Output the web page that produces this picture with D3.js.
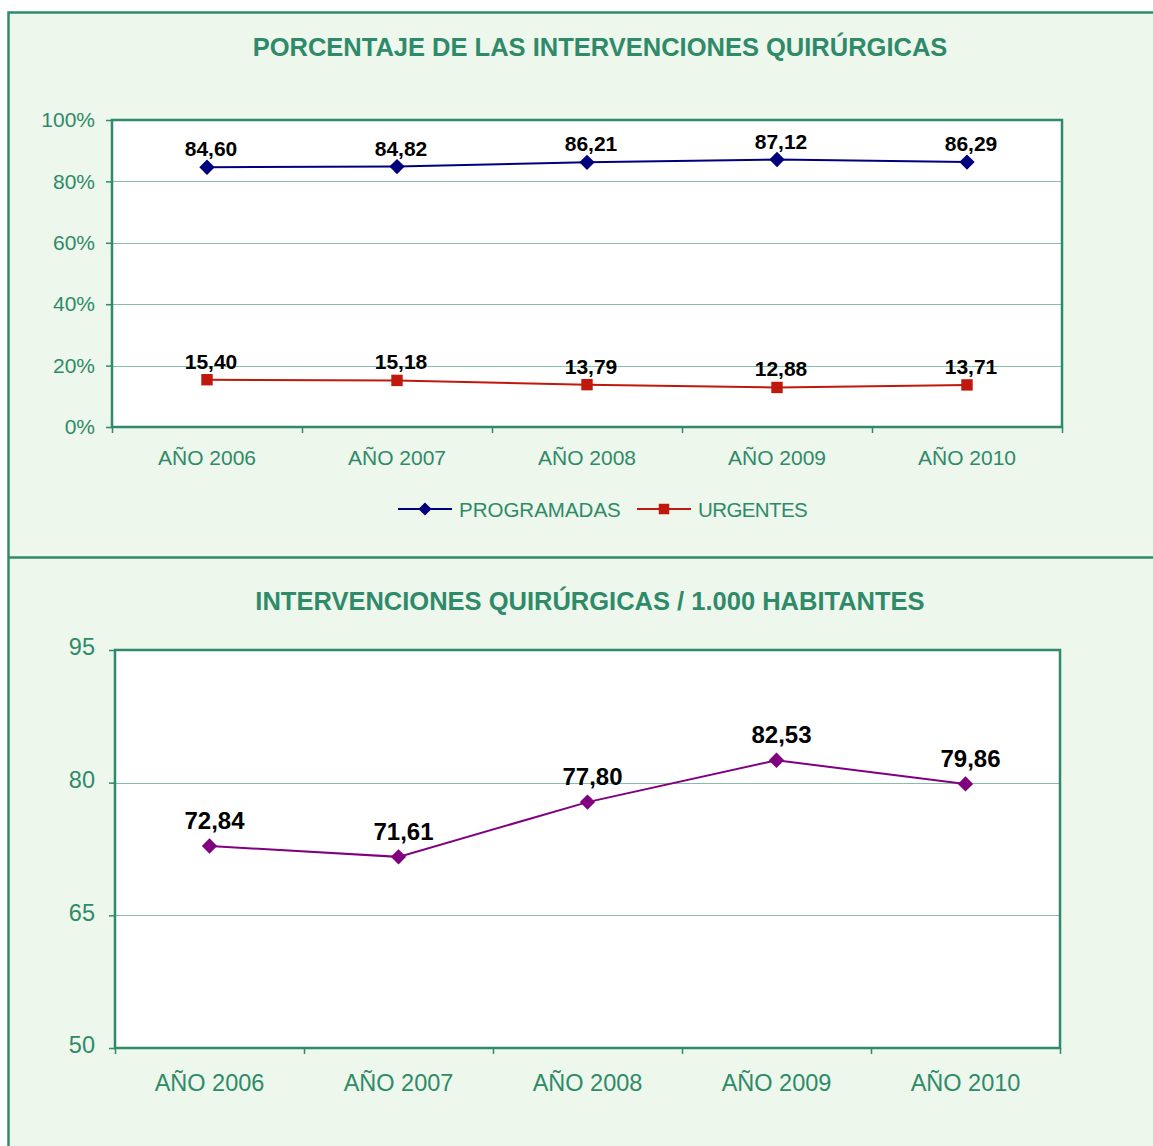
<!DOCTYPE html>
<html>
<head>
<meta charset="utf-8">
<script src="https://cdn.jsdelivr.net/npm/d3@7"></script>
<style>
  body { margin: 0; background: #fff; }
  svg { display: block; font-family: "Liberation Sans", Arial, sans-serif; }
</style>
</head>
<body>
<div id="graph"></div>
<script>
const years = ["AÑO 2006", "AÑO 2007", "AÑO 2008", "AÑO 2009", "AÑO 2010"]
const programadas = [84.60, 84.82, 86.21, 87.12, 86.29]
const urgentes = [15.40, 15.18, 13.79, 12.88, 13.71]
const porHabitantes = [72.84, 71.61, 77.80, 82.53, 79.86]
const pctTicks = [0, 20, 40, 60, 80, 100]
const habTicks = [50, 65, 80, 95]

const width = 1153
const height = 1146
const green = "#2f8a69"
const panelBg = "#edf7ec"
const gridColor = "#86bfa6"
const fmt = v => v.toFixed(2).replace(".", ",")

const svg = d3.create("svg")
              .attr("width", width)
              .attr("height", height)

// panels
svg.append("rect").attr("x", 0).attr("y", 0).attr("width", width).attr("height", height).attr("fill", "#fff")
svg.append("rect").attr("x", 8).attr("y", 12).attr("width", width).attr("height", height).attr("fill", panelBg)
svg.append("path")
   .attr("d", `M${width},12.5H8.5V${height}M8.5,557.5H${width}`)
   .attr("fill", "none")
   .attr("stroke", green)
   .attr("stroke-width", 2.5)

function drawChart({top, bottom, left, right, domain, ticks, tickFmt, title, titleX, titleY,
                    series, tickSize, tickPad, tickDy, catSize, catPad, labelSize, labelDx, labelDy}) {
  const g = svg.append("g")

  g.append("text")
   .attr("x", titleX).attr("y", titleY)
   .attr("text-anchor", "middle")
   .attr("fill", green)
   .attr("font-weight", "bold")
   .attr("font-size", 25.5)
   .text(title)

  const x = d3.scaleBand().domain(years).range([left, right]).padding(0)
  const xb = d3.scaleLinear().domain([0, years.length]).range([left, right])
  const y = d3.scaleLinear().domain(domain).range([bottom, top])

  g.append("rect")
   .attr("x", left).attr("y", top)
   .attr("width", right - left).attr("height", bottom - top)
   .attr("fill", "#fff")

  // gridlines
  g.append("g")
   .selectAll("line")
   .data(ticks.slice(1, -1))
   .join("line")
   .attr("x1", left).attr("x2", right)
   .attr("y1", d => Math.round(y(d)) + 0.5).attr("y2", d => Math.round(y(d)) + 0.5)
   .attr("stroke", gridColor)
   .attr("stroke-width", 1.2)

  // y axis
  const yAxis = g.append("g")
   .attr("transform", `translate(${left},0)`)
   .call(d3.axisLeft(y).tickValues(ticks).tickFormat(tickFmt).tickSize(6).tickPadding(tickPad))
  yAxis.select(".domain").remove()
  yAxis.selectAll("line").attr("stroke", green).attr("stroke-width", 1.5)
  yAxis.selectAll("text").attr("fill", green).attr("font-size", tickSize)
       .attr("font-family", "Liberation Sans, Arial, sans-serif")
       .attr("dy", tickDy)

  // x axis
  const xTicks = g.append("g")
   .attr("transform", `translate(0,${bottom})`)
   .call(d3.axisBottom(xb).ticks(years.length).tickSize(6).tickFormat(""))
  xTicks.select(".domain").remove()
  xTicks.selectAll("line").attr("stroke", green).attr("stroke-width", 1.5)

  const xAxis = g.append("g")
   .attr("transform", `translate(0,${bottom})`)
   .call(d3.axisBottom(x).tickSize(0).tickPadding(catPad))
  xAxis.select(".domain").remove()
  xAxis.selectAll("text").attr("fill", green).attr("font-size", catSize)
       .attr("font-family", "Liberation Sans, Arial, sans-serif")

  // frame
  g.append("rect")
   .attr("x", left).attr("y", top)
   .attr("width", right - left).attr("height", bottom - top)
   .attr("fill", "none")
   .attr("stroke", green)
   .attr("stroke-width", 2.5)

  const cx = (d, i) => x(years[i]) + x.bandwidth() / 2

  series.forEach(s => {
    const line = d3.line().x((d, i) => cx(d, i)).y(d => y(d))
    g.append("path")
     .datum(s.values)
     .attr("d", line)
     .attr("fill", "none")
     .attr("stroke", s.color)
     .attr("stroke-width", 2)

    g.append("g")
     .selectAll("path")
     .data(s.values)
     .join("path")
     .attr("transform", (d, i) => `translate(${cx(d, i)},${y(d)})`)
     .attr("d", d3.symbol(s.symbol === "square" ? d3.symbolSquare : d3.symbolDiamond2, s.symbol === "square" ? 130 : 150))
     .attr("fill", s.color)

    g.append("g")
     .selectAll("text")
     .data(s.values)
     .join("text")
     .attr("x", (d, i) => cx(d, i) + labelDx)
     .attr("y", d => y(d) + labelDy)
     .attr("text-anchor", "middle")
     .attr("font-weight", "bold")
     .attr("font-size", labelSize)
     .attr("fill", "#000")
     .text(fmt)
  })
}

drawChart({
  top: 120, bottom: 427, left: 112, right: 1062,
  domain: [0, 100], ticks: pctTicks, tickFmt: d => d + "%",
  title: "PORCENTAJE DE LAS INTERVENCIONES QUIRÚRGICAS", titleX: 600, titleY: 56,
  series: [
    {values: programadas, color: "#00007f", symbol: "diamond"},
    {values: urgentes, color: "#c0180c", symbol: "square"}
  ],
  tickSize: 21, tickPad: 11, tickDy: "0.32em", catSize: 21, catPad: 23, labelSize: 21, labelDx: 4, labelDy: -11
})

drawChart({
  top: 650, bottom: 1048, left: 115, right: 1060,
  domain: [50, 95], ticks: habTicks, tickFmt: d => d,
  title: "INTERVENCIONES QUIRÚRGICAS / 1.000 HABITANTES", titleX: 590, titleY: 610,
  series: [
    {values: porHabitantes, color: "#800080", symbol: "diamond"}
  ],
  tickSize: 23.5, tickPad: 14, tickDy: "0.2em", catSize: 23.5, catPad: 26, labelSize: 24, labelDx: 5, labelDy: -17
})

// legend
const legendItems = [
  {name: "PROGRAMADAS", color: "#00007f", symbol: d3.symbolDiamond2, size: 110, x: 398},
  {name: "URGENTES", color: "#c0180c", symbol: d3.symbolSquare, size: 110, x: 637}
]
const legend = svg.append("g").attr("id", "legend")
legendItems.forEach(it => {
  const lg = legend.append("g").attr("transform", `translate(${it.x},509)`)
  lg.append("line").attr("x1", 0).attr("x2", 54).attr("stroke", it.color).attr("stroke-width", 2)
  lg.append("path").attr("transform", "translate(27,0)").attr("d", d3.symbol(it.symbol, it.size)).attr("fill", it.color)
  lg.append("text")
    .attr("x", 61).attr("y", 7.5)
    .attr("fill", green)
    .attr("font-size", 20.5)
    .attr("letter-spacing", it.name === "URGENTES" ? -0.6 : 0)
    .text(it.name)
})

document.getElementById("graph").append(svg.node())
</script>
</body>
</html>
